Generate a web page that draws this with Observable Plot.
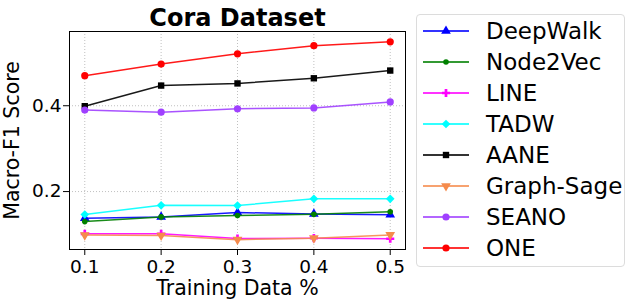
<!DOCTYPE html>
<html>
<head>
<meta charset="utf-8">
<script src="https://cdn.jsdelivr.net/npm/d3@7"></script>
<script src="https://cdn.jsdelivr.net/npm/@observablehq/plot@0.6"></script>
<style>
  body { margin: 0; background: #fff; font-family: "DejaVu Sans", sans-serif; }
  #wrap { position: relative; width: 631px; height: 305px; }
  #legend { position: absolute; left: 416px; top: 14px; width: 209px; height: 253px;
    border: 1px solid #dcdcdc; border-radius: 4px; box-sizing: border-box; }
  .row { position: absolute; left: 0; height: 31px; display: flex; align-items: center; white-space: nowrap; }
  .row svg { margin-left: 6px; }
  .row span { margin-left: 17px; font-size: 23px; color: #000; }
</style>
</head>
<body>
<div id="wrap"><div id="chart"></div><div id="legend"></div></div>
<script>
const trainingData = [0.1, 0.2, 0.3, 0.4, 0.5];
const methods = ["DeepWalk", "Node2Vec", "LINE", "TADW", "AANE", "Graph-Sage", "SEANO", "ONE"];
const deepWalk  = [0.138, 0.141, 0.151, 0.148, 0.146];
const node2Vec  = [0.130, 0.141, 0.144, 0.147, 0.153];
const lineScore = [0.1015, 0.1015, 0.0907, 0.0915, 0.090];
const tadw      = [0.1465, 0.168, 0.1674, 0.183, 0.183];
const aane      = [0.399, 0.447, 0.452, 0.464, 0.482];
const graphSage = [0.0985, 0.0977, 0.088, 0.0915, 0.099];
const seano     = [0.390, 0.385, 0.393, 0.395, 0.409];
const one       = [0.470, 0.497, 0.521, 0.540, 0.549];
const yTicks = [0.2, 0.4];
const title = "Cora Dataset";
const xLabel = "Training Data %";
const yLabel = "Macro-F1 Score";

const series = [deepWalk, node2Vec, lineScore, tadw, aane, graphSage, seano, one];
const colors = ["#0000ff", "#008000", "#ff00ff", "#00ffff", "#000000", "#f58b4c", "#a040ff", "#ff0000"];

const triangleDown = {
  draw(ctx, size) {
    const y = Math.sqrt(size / (3 * Math.sqrt(3)));
    ctx.moveTo(0, 2 * y);
    ctx.lineTo(-Math.sqrt(3) * y, -y);
    ctx.lineTo(Math.sqrt(3) * y, -y);
    ctx.closePath();
  }
};
const symbols = [d3.symbolTriangle, d3.symbolCircle, d3.symbolCross, d3.symbolDiamond2, d3.symbolSquare, triangleDown, d3.symbolCircle, d3.symbolCircle];
const radii = [3.6, 2.8, 3.4, 3.9, 3.6, 3.6, 3.6, 3.6];

const marks = [
  Plot.gridX(trainingData, {stroke: "#b0b0b0", strokeOpacity: 1, strokeDasharray: "1,2", strokeWidth: 0.8}),
  Plot.gridY(yTicks, {stroke: "#b0b0b0", strokeOpacity: 1, strokeDasharray: "1,2", strokeWidth: 0.8}),
];
methods.forEach((m, i) => {
  const rows = trainingData.map((x, j) => ({method: m, x, y: series[i][j]}));
  marks.push(Plot.line(rows, {x: "x", y: "y", stroke: colors[i], strokeWidth: 1.5, strokeOpacity: 0.9}));
  marks.push(Plot.dot(rows, {x: "x", y: "y", fill: colors[i], symbol: symbols[i], r: radii[i], stroke: "none"}));
});
marks.push(
  Plot.frame({stroke: "#000", strokeWidth: 1}),
  Plot.axisX(trainingData, {tickFormat: d => d.toFixed(1), tickSize: 6, tickPadding: 4, label: null, fontSize: 18.5}),
  Plot.axisY(yTicks, {tickFormat: d => d.toFixed(1), tickSize: 6, tickPadding: 2, label: null, fontSize: 18.5}),
  Plot.text([title], {frameAnchor: "top", lineAnchor: "middle", textAnchor: "middle", dy: -13, fontSize: 24, fontWeight: "bold", text: d => d}),
  Plot.text([xLabel], {frameAnchor: "bottom", lineAnchor: "middle", textAnchor: "middle", dy: 39, fontSize: 20.5, text: d => d}),
  Plot.text([yLabel], {frameAnchor: "left", lineAnchor: "middle", textAnchor: "middle", dx: -57, rotate: -90, fontSize: 20.5, text: d => d})
);

const chart = Plot.plot({
  width: 410, height: 305,
  marginLeft: 69, marginRight: 5, marginTop: 31, marginBottom: 56,
  x: {domain: [0.08, 0.52]},
  y: {domain: [0.065, 0.573]},
  style: {fontFamily: "DejaVu Sans", fontSize: "18.5px", color: "#000", background: "transparent"},
  marks
});
document.getElementById("chart").appendChild(chart);

// Legend
const legend = d3.select("#legend");
methods.forEach((m, i) => {
  const row = legend.append("div").attr("class", "row").style("top", (0 + i * 31) + "px");
  const svg = row.append("svg").attr("width", 46).attr("height", 14);
  svg.append("line").attr("x1", 0).attr("x2", 46).attr("y1", 7).attr("y2", 7)
    .attr("stroke", colors[i]).attr("stroke-width", 2).attr("stroke-opacity", 0.8);
  const r = radii[i];
  svg.append("path").attr("transform", "translate(23,7)")
    .attr("d", d3.symbol(symbols[i], Math.PI * r * r)())
    .attr("fill", colors[i]);
  row.append("span").text(m);
});
</script>
</body>
</html>
